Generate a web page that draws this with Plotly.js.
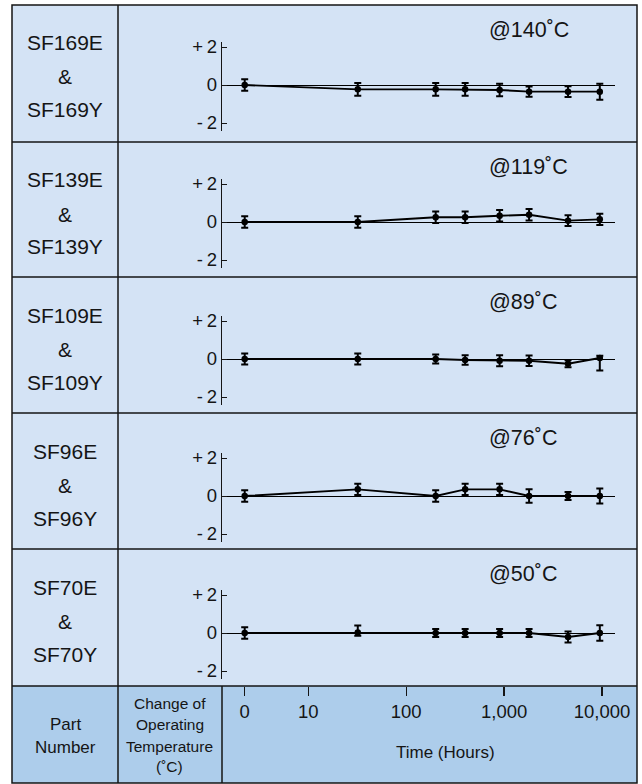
<!DOCTYPE html>
<html><head><meta charset="utf-8">
<script src="https://cdn.plot.ly/plotly-3.0.1.min.js"></script>
<style>html,body{margin:0;padding:0;background:#fff}#chart{width:642px;height:784px}</style>
</head><body><div id="chart"></div><script>
// ---- data ----
const partTop    = ["SF169E", "SF139E", "SF109E", "SF96E", "SF70E"];
const partBottom = ["SF169Y", "SF139Y", "SF109Y", "SF96Y", "SF70Y"];
const temperatures = ["@140˚C", "@119˚C", "@89˚C", "@76˚C", "@50˚C"];
const hours = [0, 32, 200, 400, 900, 1800, 4500, 9500];

const change140 = [0, -0.23, -0.23, -0.23, -0.26, -0.35, -0.35, -0.35];
const errUp140  = [0.3, 0.33, 0.33, 0.33, 0.33, 0.27, 0.28, 0.42];
const errDn140  = [0.3, 0.33, 0.33, 0.33, 0.33, 0.27, 0.28, 0.42];

const change119 = [0, 0, 0.25, 0.25, 0.33, 0.38, 0.07, 0.14];
const errUp119  = [0.3, 0.3, 0.3, 0.3, 0.3, 0.3, 0.28, 0.3];
const errDn119  = [0.3, 0.3, 0.3, 0.3, 0.3, 0.3, 0.28, 0.3];

const change89 = [0, 0, 0, -0.05, -0.09, -0.09, -0.25, 0.05];
const errUp89  = [0.29, 0.29, 0.24, 0.25, 0.29, 0.28, 0.19, 0.12];
const errDn89  = [0.29, 0.29, 0.24, 0.25, 0.29, 0.28, 0.19, 0.65];

const change76 = [0, 0.35, 0, 0.35, 0.35, 0, 0, 0];
const errUp76  = [0.3, 0.3, 0.3, 0.3, 0.3, 0.36, 0.21, 0.4];
const errDn76  = [0.3, 0.3, 0.3, 0.3, 0.3, 0.36, 0.21, 0.4];

const change50 = [0, 0.02, 0, 0, 0, 0, -0.21, 0];
const errUp50  = [0.3, 0.38, 0.21, 0.21, 0.21, 0.21, 0.29, 0.41];
const errDn50  = [0.3, 0.16, 0.21, 0.21, 0.21, 0.21, 0.29, 0.41];

const xTickHours = [0, 10, 100, 1000, 10000];
const xTickText  = ["0", "10", "100", "1,000", "10,000"];
const yTickVals  = [-2, 0, 2];
const yTickText  = ["-\u20092", "0", "+\u20092"];

// ---- layout helpers ----
const W = 642, H = 784;
const FONT = "'Liberation Sans', Arial, Helvetica, sans-serif";
const INK = "#151515";
const ZERO_POS = 0.35;               // log-axis slot used for "0 hours"
const xpos = h => h === 0 ? ZERO_POS : Math.log10(h);
const px = v => v / W;
const py = v => 1 - v / H;

const series = [
  [change140, errUp140, errDn140],
  [change119, errUp119, errDn119],
  [change89, errUp89, errDn89],
  [change76, errUp76, errDn76],
  [change50, errUp50, errDn50]
];
const rowTops = [5, 142, 277, 413, 549];
const tableBottomTop = 686, tableBottom = 783, left = 12, right = 637, col1 = 118, col2 = 222;
const zeroY = [85, 222, 359, 496, 633];
const unitPx = 19, yMin = -2.4, yMax = 2.25;
const plotL = 221.7, plotR = 615, xMin = 0.115, xMax = 4.133;

const data = [];
const layout = {
  width: W, height: H,
  margin: {l: 0, r: 0, t: 0, b: 0},
  paper_bgcolor: "#ffffff", plot_bgcolor: "rgba(0,0,0,0)",
  showlegend: false,
  font: {family: FONT, color: INK},
  shapes: [], annotations: []
};

series.forEach((s, i) => {
  const n = i + 1;
  data.push({
    x: hours.map(xpos), y: s[0],
    xaxis: "x" + n, yaxis: "y" + n,
    mode: "lines+markers", type: "scatter",
    line: {color: "#000", width: 1.9},
    marker: {color: "#000", size: 6.5},
    error_y: {type: "data", symmetric: false, array: s[1], arrayminus: s[2],
              color: "#000", thickness: 2, width: 3.5},
    hoverinfo: "skip"
  });
  const xa = {
    domain: [px(plotL), px(plotR)], range: [xMin, xMax],
    showgrid: false, zeroline: false, showline: false,
    showticklabels: false, ticks: "", fixedrange: true, anchor: "y" + n
  };
  if (n === 5) {
    Object.assign(xa, {
      anchor: "free", position: py(tableBottomTop), side: "bottom",
      tickmode: "array", tickvals: xTickHours.map(xpos), ticktext: xTickText,
      showticklabels: true, ticks: "outside", ticklen: 9, tickwidth: 1.3, tickcolor: INK,
      tickfont: {size: 18.5, family: FONT, color: INK}
    });
  }
  layout["xaxis" + (n === 1 ? "" : n)] = xa;
  layout["yaxis" + (n === 1 ? "" : n)] = {
    domain: [py(zeroY[i] - yMin * unitPx), py(zeroY[i] - yMax * unitPx)],
    range: [yMin, yMax], anchor: "x" + n,
    tickmode: "array", tickvals: yTickVals, ticktext: yTickText,
    ticks: "inside", ticklen: 5, tickwidth: 1, tickcolor: INK,
    showline: true, linecolor: INK, linewidth: 1,
    zeroline: true, zerolinecolor: "#000", zerolinewidth: 1,
    showgrid: false, fixedrange: true,
    tickfont: {size: 18.5, family: FONT, color: INK}
  };

  // part number labels
  const top = rowTops[i];
  [[partTop[i], 38], ["&", 72], [partBottom[i], 105]].forEach(([t, dy]) => {
    layout.annotations.push({xref: "paper", yref: "paper", x: px(65), y: py(top + dy),
      text: t, showarrow: false, xanchor: "center", yanchor: "middle",
      font: {size: 21, family: FONT, color: INK}});
  });
  layout.annotations.push({xref: "paper", yref: "paper", x: px(487), y: py(top + 25),
    text: temperatures[i], showarrow: false, xanchor: "left", yanchor: "middle",
    font: {size: 21.5, family: FONT, color: INK}});
});

// table background and rules
const S = layout.shapes;
S.push({type: "rect", xref: "paper", yref: "paper", layer: "below",
  x0: px(left), x1: px(right), y0: py(tableBottomTop), y1: py(rowTops[0]),
  fillcolor: "#d4e3f5", line: {width: 0}});
S.push({type: "rect", xref: "paper", yref: "paper", layer: "below",
  x0: px(left), x1: px(right), y0: py(tableBottom), y1: py(tableBottomTop),
  fillcolor: "#adcdeb", line: {width: 0}});
const lineStyle = {color: INK, width: 1.5};
[rowTops[1], rowTops[2], rowTops[3], rowTops[4], tableBottomTop].forEach(y => {
  S.push({type: "line", xref: "paper", yref: "paper", x0: px(left), x1: px(right),
    y0: py(y), y1: py(y), line: lineStyle});
});
S.push({type: "line", xref: "paper", yref: "paper", x0: px(col1), x1: px(col1),
  y0: py(rowTops[0]), y1: py(tableBottom), line: lineStyle});
S.push({type: "line", xref: "paper", yref: "paper", x0: px(col2), x1: px(col2),
  y0: py(tableBottomTop), y1: py(tableBottom), line: lineStyle});
S.push({type: "rect", xref: "paper", yref: "paper", x0: px(left), x1: px(right),
  y0: py(tableBottom), y1: py(rowTops[0]), line: lineStyle, fillcolor: "rgba(0,0,0,0)"});

// bottom header labels
const A = layout.annotations;
[["Part", 724], ["Number", 747]].forEach(([t, y]) => A.push({xref: "paper", yref: "paper",
  x: px(65), y: py(y), text: t, showarrow: false, xanchor: "center", yanchor: "middle",
  font: {size: 17, family: FONT, color: INK}}));
[["Change of", 703], ["Operating", 724], ["Temperature", 746], ["(˚C)", 766]].forEach(([t, y]) =>
  A.push({xref: "paper", yref: "paper", x: px(170), y: py(y), text: t, showarrow: false,
    xanchor: "center", yanchor: "middle", font: {size: 15.5, family: FONT, color: INK}}));
A.push({xref: "paper", yref: "paper", x: px(445), y: py(752), text: "Time (Hours)",
  showarrow: false, xanchor: "center", yanchor: "middle",
  font: {size: 17, family: FONT, color: INK}});

Plotly.newPlot("chart", data, layout, {staticPlot: true, displayModeBar: false});
</script></body></html>
